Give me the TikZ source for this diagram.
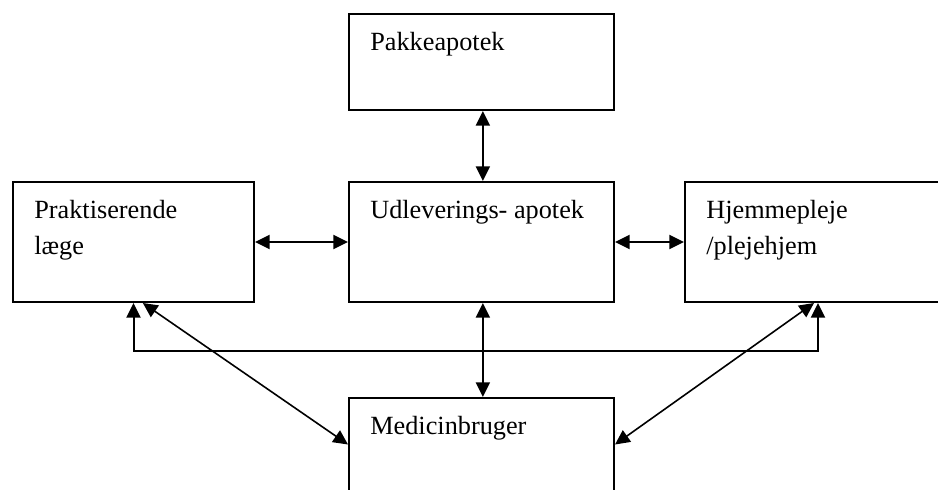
\documentclass[tikz,border=0pt]{standalone}
\usepackage{fontspec}
\setmainfont{Liberation Serif}
\usetikzlibrary{arrows.meta}

\begin{document}
\begin{tikzpicture}[x=0.75pt,y=-0.75pt,>={Triangle[length=11pt,width=10.5pt]},line width=1.5pt,
                    box/.style={rectangle,draw,anchor=north west,inner sep=0pt},
                    boxtext/.style={anchor=north west,inner sep=0pt,align=left,xshift=16pt,yshift=-12pt,
                                    font=\fontsize{19.7}{27}\selectfont}]

  \useasboundingbox (0,0) rectangle (938,489);
  \clip (0,0) rectangle (938,489);

  \node[box,minimum width=198.75pt,minimum height=72pt,
        label={[boxtext]north west:\rule{0pt}{15pt}Pakkeapotek}] (pak) at (348,13) {};
  \node[box,minimum width=198.75pt,minimum height=90pt,
        label={[boxtext]north west:\rule{0pt}{15pt}Udleverings- apotek}] (udl) at (348,181) {};
  \node[box,minimum width=180.75pt,minimum height=90pt,
        label={[boxtext]north west:\rule{0pt}{15pt}Praktiserende\\læge}] (prak) at (12,181) {};
  \node[box,minimum width=199.5pt,minimum height=90pt,
        label={[boxtext]north west:\rule{0pt}{15pt}Hjemmepleje\\/plejehjem}] (hjem) at (684,181) {};
  \node[box,minimum width=198.75pt,minimum height=69.75pt,
        label={[boxtext]north west:\rule{0pt}{15pt}Medicinbruger}] (med) at (348,397) {};

  \path[<->]
    ([xshift=1pt]pak.south) edge ([xshift=1pt]udl.north)
    ([xshift=1pt]udl.south) edge ([xshift=1pt]med.north)
    (prak.east) edge (udl.west)
    (udl.east) edge (hjem.west)
    ([xshift=7pt]prak.south) edge [line width=1.2pt] (med.west)
    ([xshift=-3pt]hjem.south) edge [line width=1.2pt] (med.east)
;
  \draw[<->] (prak.south) -- ++(0,48) -| (hjem.south);
\end{tikzpicture}
\end{document}
